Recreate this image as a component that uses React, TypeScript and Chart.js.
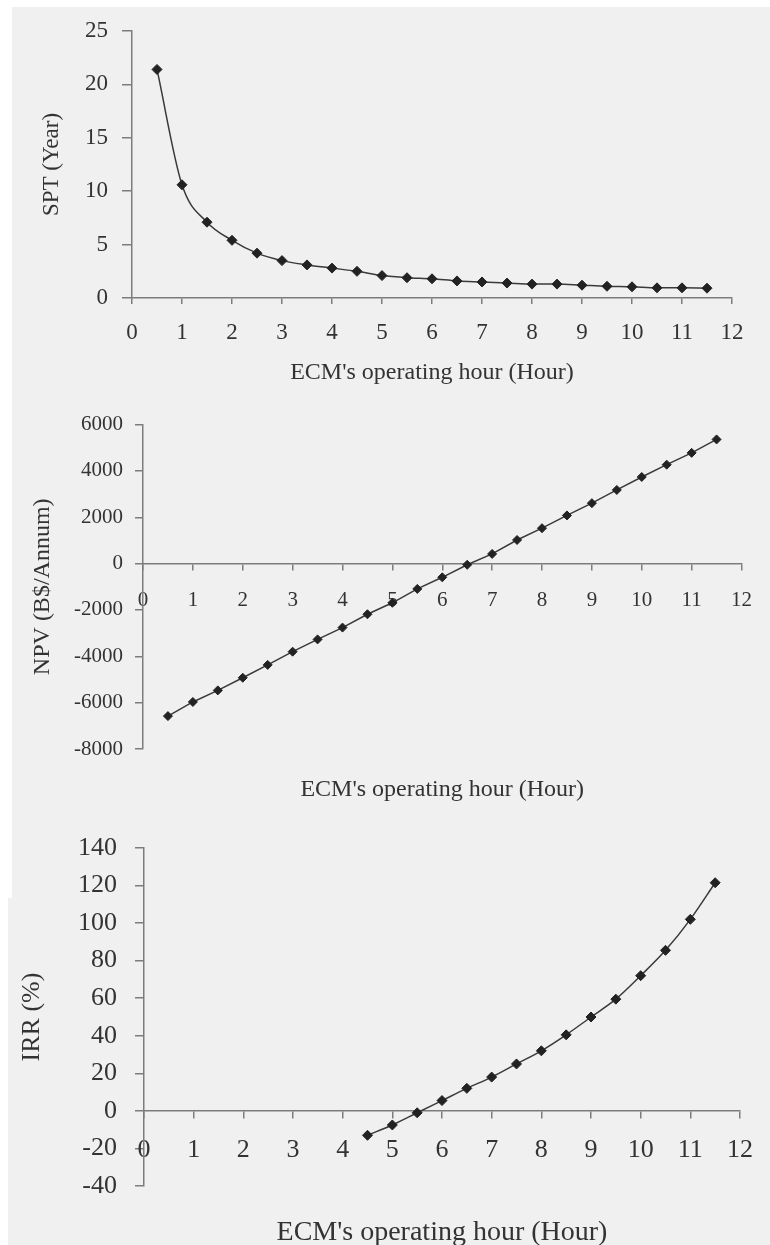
import React, { useEffect, useRef } from "react";
import { Chart, registerables } from "chart.js";

Chart.register(...registerables);

// ---------- data ----------
const hoursAll = [0.5, 1, 1.5, 2, 2.5, 3, 3.5, 4, 4.5, 5, 5.5, 6, 6.5, 7, 7.5, 8, 8.5, 9, 9.5, 10, 10.5, 11, 11.5];
const sptValues = [21.4, 10.6, 7.1, 5.4, 4.2, 3.5, 3.1, 2.8, 2.5, 2.1, 1.9, 1.8, 1.6, 1.5, 1.4, 1.3, 1.3, 1.2, 1.1, 1.05, 0.95, 0.95, 0.92];
const npvValues = [-6580, -5970, -5470, -4925, -4370, -3800, -3270, -2760, -2185, -1690, -1090, -590, -50, 420, 1020, 1530, 2080, 2610, 3180, 3740, 4270, 4780, 5360];
const irrHours = [4.5, 5, 5.5, 6, 6.5, 7, 7.5, 8, 8.5, 9, 9.5, 10, 10.5, 11, 11.5];
const irrValues = [-13, -7.5, -1, 5.5, 12, 18, 25, 32, 40.5, 50, 59.5, 72, 85.5, 102, 121.5];

const xTitle = "ECM's operating hour (Hour)";
const sptTitle = "SPT (Year)";
const npvTitle = "NPV (B$/Annum)";
const irrTitle = "IRR (%)";

// ---------- styling ----------
const FONT = "'Liberation Serif', 'Times New Roman', serif";
const TEXT = "#333333";
const AXIS = "#7c7c7c";
const LINE = "#3a3a3a";
const MARK = "#222222";

type Spec = {
  top: number;
  height: number;
  area: { left: number; right: number; top: number; bottom: number };
  xs: number[];
  ys: number[];
  smooth: boolean;
  yMin: number;
  yMax: number;
  yStep: number;
  yTitle: string;
  yTitleSize: number;
  yTitleX: number;
  yTickSize: number;
  yTickLen: number;
  yTickPad: number;
  xTickSize: number;
  xTickLen: number;
  xTickPad: number;
  xTitleSize: number;
  xTitleY: number;
  crossAtZero: boolean;
  pointRadius: number;
};

function buildConfig(spec: Spec): any {
  const area = spec.area;
  const lhY = spec.yTitleSize * 1.2;
  const lhX = spec.xTitleSize * 1.2;
  const xTitleOpts = {
    display: true,
    text: xTitle,
    color: TEXT,
    font: { family: FONT, size: spec.xTitleSize },
    padding: { top: 0, bottom: spec.height - spec.xTitleY - lhX / 2 },
  };
  const scales: any = {
    x: {
      type: "linear",
      min: 0,
      max: 12,
      position: spec.crossAtZero ? { y: 0 } : "bottom",
      ticks: {
        stepSize: 1,
        color: TEXT,
        font: { family: FONT, size: spec.xTickSize },
        padding: spec.xTickPad,
        maxRotation: 0,
        autoSkip: false,
        callback: (v: any) => String(v),
      },
      grid: {
        display: true,
        drawOnChartArea: false,
        drawTicks: true,
        tickLength: spec.xTickLen,
        color: AXIS,
        lineWidth: 1.5,
      },
      border: { display: true, color: AXIS, width: 1.5 },
      afterFit: (s: any) => {
        s.height = spec.crossAtZero ? 0 : spec.height - area.bottom;
      },
      title: spec.crossAtZero ? { display: false } : xTitleOpts,
    },
    y: {
      type: "linear",
      min: spec.yMin,
      max: spec.yMax,
      position: "left",
      ticks: {
        stepSize: spec.yStep,
        color: TEXT,
        font: { family: FONT, size: spec.yTickSize },
        padding: spec.yTickPad,
        callback: (v: any) => String(v),
      },
      grid: {
        display: true,
        drawOnChartArea: false,
        drawTicks: true,
        tickLength: spec.yTickLen,
        color: AXIS,
        lineWidth: 1.5,
      },
      border: { display: true, color: AXIS, width: 1.5 },
      afterFit: (s: any) => {
        s.width = area.left;
      },
      title: {
        display: true,
        text: spec.yTitle,
        color: TEXT,
        font: { family: FONT, size: spec.yTitleSize },
        padding: { top: spec.yTitleX - lhY / 2, bottom: 0 },
      },
    },
  };
  if (spec.crossAtZero) {
    scales.xt = {
      type: "linear",
      axis: "x",
      position: "bottom",
      min: 0,
      max: 1,
      ticks: { display: false },
      grid: { display: false, drawTicks: false },
      border: { display: false },
      afterFit: (s: any) => {
        s.height = spec.height - area.bottom;
      },
      title: xTitleOpts,
    };
  }
  return {
    type: "line",
    data: {
      datasets: [
        {
          data: spec.xs.map((x, i) => ({ x, y: spec.ys[i] })),
          borderColor: LINE,
          borderWidth: 1.5,
          pointStyle: "rectRot",
          pointRadius: spec.pointRadius,
          pointBackgroundColor: MARK,
          pointBorderColor: MARK,
          pointBorderWidth: 1,
          tension: spec.smooth ? 0.4 : 0,
          cubicInterpolationMode: spec.smooth ? "monotone" : "default",
          fill: false,
          clip: false,
        },
      ],
    },
    options: {
      responsive: false,
      animation: false,
      devicePixelRatio: 1,
      layout: {
        padding: { left: 0, top: area.top, right: 770 - area.right, bottom: 0 },
      },
      plugins: { legend: { display: false }, tooltip: { enabled: false } },
      scales,
    },
  };
}

const specs: Spec[] = [
  {
    top: 0,
    height: 400,
    area: { left: 132, right: 732, top: 31, bottom: 298 },
    xs: hoursAll,
    ys: sptValues,
    smooth: true,
    yMin: 0,
    yMax: 25,
    yStep: 5,
    yTitle: sptTitle,
    yTitleSize: 23,
    yTitleX: 52,
    yTickSize: 23,
    yTickLen: 10,
    yTickPad: 14,
    xTickSize: 23,
    xTickLen: 6,
    xTickPad: 15,
    xTitleSize: 24,
    xTitleY: 373,
    crossAtZero: false,
    pointRadius: 5,
  },
  {
    top: 400,
    height: 410,
    area: { left: 143, right: 746, top: 22, bottom: 349 },
    xs: hoursAll,
    ys: npvValues,
    smooth: false,
    yMin: -8000,
    yMax: 6000,
    yStep: 2000,
    yTitle: npvTitle,
    yTitleSize: 24,
    yTitleX: 43,
    yTickSize: 21,
    yTickLen: 8,
    yTickPad: 12,
    xTickSize: 21,
    xTickLen: 6,
    xTickPad: 18,
    xTitleSize: 24,
    xTitleY: 390,
    crossAtZero: true,
    pointRadius: 4.5,
  },
  {
    top: 810,
    height: 450,
    area: { left: 144, right: 743, top: 38, bottom: 376 },
    xs: irrHours,
    ys: irrValues,
    smooth: true,
    yMin: -40,
    yMax: 140,
    yStep: 20,
    yTitle: irrTitle,
    yTitleSize: 26,
    yTitleX: 32,
    yTickSize: 26,
    yTickLen: 9,
    yTickPad: 18,
    xTickSize: 26,
    xTickLen: 7,
    xTickPad: 17,
    xTitleSize: 28,
    xTitleY: 423,
    crossAtZero: true,
    pointRadius: 5,
  },
];

function ChartCanvas({ spec }: { spec: Spec }) {
  const ref = useRef<HTMLCanvasElement | null>(null);
  useEffect(() => {
    if (!ref.current) return;
    const chart = new Chart(ref.current, buildConfig(spec));
    return () => chart.destroy();
  }, []);
  return (
    <canvas
      ref={ref}
      width={770}
      height={spec.height}
      style={{ position: "absolute", left: 0, top: spec.top, width: 770, height: spec.height }}
    />
  );
}

export default function App() {
  return (
    <div
      style={{
        position: "absolute",
        left: 0,
        top: 0,
        width: 770,
        height: 1245,
        overflow: "hidden",
        background: "#ffffff",
      }}
    >
      <div style={{ position: "absolute", left: 12, top: 7, width: 758, height: 1238, background: "#f0f0f0" }} />
      <div style={{ position: "absolute", left: 8, top: 898, width: 4, height: 347, background: "#f0f0f0" }} />
      {specs.map((s, i) => (
        <ChartCanvas key={i} spec={s} />
      ))}
    </div>
  );
}
